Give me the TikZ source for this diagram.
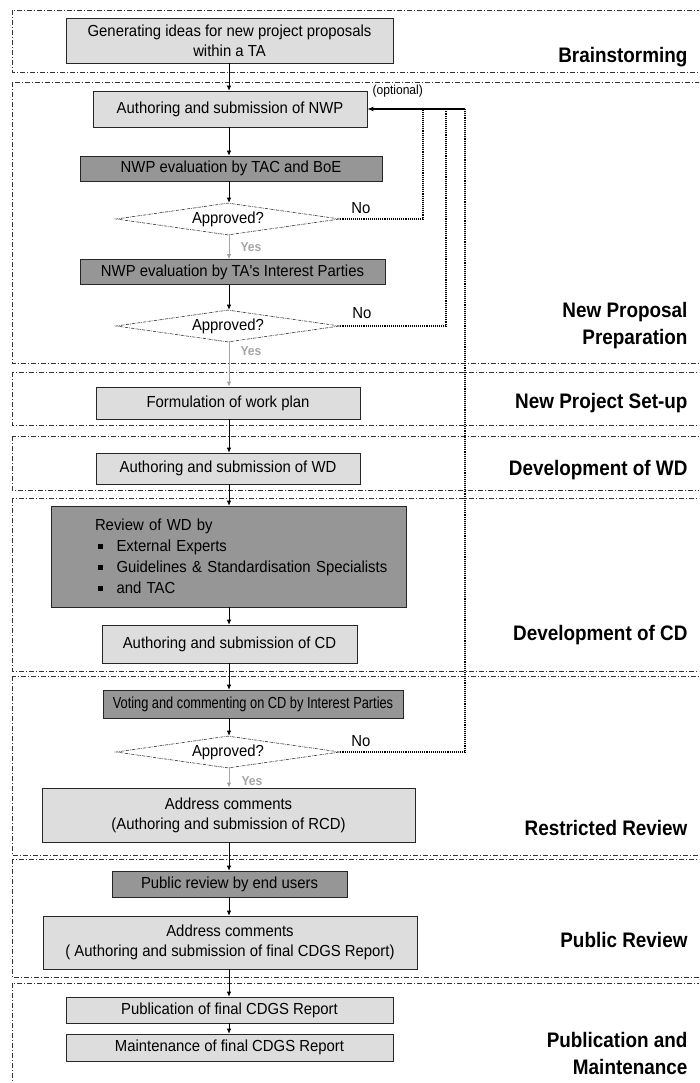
\documentclass[tikz,border=0pt]{standalone}
\usepackage{fontspec}
\setmainfont{Liberation Sans}
\newfontfamily\boxfont[FakeStretch=0.93]{Liberation Sans}
\newfontfamily\narrowfont[FakeStretch=0.8]{Liberation Sans}
\newfontfamily\lblfont[FakeStretch=0.9]{Liberation Sans}
\usetikzlibrary{shapes.geometric,arrows.meta}
\definecolor{boxlight}{RGB}{221,221,221}
\definecolor{boxdark}{RGB}{150,150,150}
\definecolor{yesgray}{RGB}{165,165,165}
\definecolor{phaseline}{RGB}{50,50,50}
\newcommand{\sqbullet}{\hspace*{3pt}\rule[3pt]{4.5pt}{4.5pt}\hspace{14pt}}
\tikzset{
  phase/.style={draw=phaseline, line width=0.7pt, dash pattern=on 5pt off 2pt on 1pt off 2pt},
  stepbox/.style={draw=black!85, line width=0.7pt, inner sep=0pt, align=center,
    font=\boxfont\fontsize{16}{20}\selectfont},
  lightbox/.style={stepbox, fill=boxlight},
  darkbox/.style={stepbox, fill=boxdark},
  decision/.style={draw=black!80, line width=0.6pt, densely dashdotted, fill=white,
    shape=diamond, aspect=7, inner sep=0pt, minimum width=224pt, minimum height=32pt,
    font=\boxfont\fontsize{16}{18}\selectfont},
  flow/.style={draw=black, line width=0.7pt, -{Latex[length=5pt,width=4.5pt]}},
  yesflow/.style={draw=yesgray, line width=0.9pt, -{Latex[length=5pt,width=4.5pt]}},
  fb/.style={draw=black, line width=1.1pt, densely dotted},
  fbarrow/.style={draw=black, line width=1.1pt, -{Latex[length=6pt,width=5pt]}},
  phaselabel/.style={anchor=east, align=right, font=\lblfont\bfseries\fontsize{21}{27}\selectfont},
  nolabel/.style={font=\boxfont\fontsize{16}{18}\selectfont},
  yeslabel/.style={text=yesgray, font=\boxfont\bfseries\fontsize{13}{15}\selectfont},
  optlabel/.style={font=\boxfont\fontsize{13}{15}\selectfont}
}
\begin{document}
\begin{tikzpicture}[x=1pt,y=-1pt]
\useasboundingbox (0,0) rectangle (699,1083);
\clip (0,0) rectangle (699,1083);

% phase frames (open to the right)
\draw[phase] (12,10) rectangle (720,72);
\draw[phase] (12,82) rectangle (720,363);
\draw[phase] (12,372) rectangle (720,425);
\draw[phase] (12,436) rectangle (720,490);
\draw[phase] (12,498) rectangle (720,671);
\draw[phase] (12,676) rectangle (720,855);
\draw[phase] (12,859) rectangle (720,977);
\draw[phase] (12,983) rectangle (720,1100);

% phase names
\node[phaselabel] (lbrain) at (691,57) {Brainstorming};
\node[phaselabel] (lnpp) at (691,326) {New Proposal\\Preparation};
\node[phaselabel] (lnps) at (691,403) {New Project Set-up};
\node[phaselabel] (lwd) at (691,470) {Development of WD};
\node[phaselabel] (lcd) at (691,635) {Development of CD};
\node[phaselabel] (lrr) at (691,828) {Restricted Review};
\node[phaselabel] (lpr) at (691,940) {Public Review};
\node[phaselabel] (lpm) at (691,1053) {Publication and\\Maintenance};

% column of the main flow
\coordinate (col) at (229,0);

% process steps
\node[lightbox, minimum width=327pt, minimum height=45pt] (gen) at (229.5,40.5)
  {Generating ideas for new project proposals\\within a TA};
\node[lightbox, minimum width=274pt, minimum height=36pt] (nwp) at (230,109)
  {Authoring and submission of NWP};
\node[darkbox, minimum width=302pt, minimum height=25pt] (evtac) at (231,168.5)
  {NWP evaluation by TAC and BoE};
\node[decision] (d1) at (228,219) {Approved?};
\node[darkbox, minimum width=305pt, minimum height=25pt] (evta) at (232.5,272)
  {NWP evaluation by TA's Interest Parties};
\node[decision] (d2) at (228,326) {Approved?};
\node[lightbox, minimum width=264pt, minimum height=32pt] (form) at (228,403)
  {Formulation of work plan};
\node[lightbox, minimum width=264pt, minimum height=31pt] (wd) at (228,468.5)
  {Authoring and submission of WD};
\node[darkbox, minimum width=355pt, minimum height=101pt, align=left,
  text width=267pt, inner xsep=44pt, font=\boxfont\fontsize{16}{21}\selectfont]
  (review) at (228.5,556.5)
  {\makebox[267pt][l]{Review of WD by}\\
   \makebox[267pt][l]{\sqbullet External Experts}\\
   \makebox[267pt][l]{\sqbullet Guidelines \& Standardisation Specialists}\\
   \makebox[267pt][l]{\sqbullet and TAC}};
\node[lightbox, minimum width=255pt, minimum height=38pt] (cd) at (229.5,644)
  {Authoring and submission of CD};
\node[darkbox, minimum width=300pt, minimum height=28pt,
  font=\narrowfont\fontsize{16}{18}\selectfont] (vote) at (253,704)
  {Voting and commenting on CD by Interest Parties};
\node[decision] (d3) at (228,752) {Approved?};
\node[lightbox, minimum width=373pt, minimum height=54pt] (rcd) at (228.5,815)
  {Address comments\\(Authoring and submission of RCD)};
\node[darkbox, minimum width=235pt, minimum height=26pt] (pub) at (229.5,884)
  {Public review by end users};
\node[lightbox, minimum width=374pt, minimum height=53pt] (fin) at (230,942.5)
  {Address comments\\( Authoring and submission of final CDGS Report)};
\node[lightbox, minimum width=327pt, minimum height=26pt] (publ) at (229.5,1010)
  {Publication of final CDGS Report};
\node[lightbox, minimum width=327pt, minimum height=27pt] (maint) at (229.5,1047.5)
  {Maintenance of final CDGS Report};

% main flow
\draw[flow] (gen.south -| col) -- (nwp.north -| col);
\draw[flow] (nwp.south -| col) -- (evtac.north -| col);
\draw[flow] (evtac.south -| col) -- (d1.north -| col);
\draw[yesflow] (d1.south -| col) -- (evta.north -| col);
\draw[flow] (evta.south -| col) -- (d2.north -| col);
\draw[yesflow] (d2.south -| col) -- (form.north -| col);
\draw[flow] (form.south -| col) -- (wd.north -| col);
\draw[flow] (wd.south -| col) -- (review.north -| col);
\draw[flow] (review.south -| col) -- (cd.north -| col);
\draw[flow] (cd.south -| col) -- (vote.north -| col);
\draw[flow] (vote.south -| col) -- (d3.north -| col);
\draw[yesflow] (d3.south -| col) -- (rcd.north -| col);
\draw[flow] (rcd.south -| col) -- (pub.north -| col);
\draw[flow] (pub.south -| col) -- (fin.north -| col);
\draw[flow] (fin.south -| col) -- (publ.north -| col);
\draw[flow] (publ.south -| col) -- (maint.north -| col);

% decision labels
\node[yeslabel] (y1) at (251,247) {Yes};
\node[yeslabel] (y2) at (251,351) {Yes};
\node[yeslabel] (y3) at (252,781) {Yes};
\node[nolabel] (n1) at (361,208) {No};
\node[nolabel] (n2) at (362,313) {No};
\node[nolabel] (n3) at (361,741) {No};

% rework loops back to the NWP
\coordinate (f1) at (423,109);
\coordinate (f2) at (446,109);
\coordinate (f3) at (465,109);
\draw[fb] (d1.east) -| (f1);
\draw[fb] (d2.east) -| (f2);
\draw[fb] (d3.east) -| (f3);
\draw[fbarrow] (f3) -- (nwp.east |- f3);
\node[optlabel, anchor=south west] (opt) at (369,101) {(optional)};
\end{tikzpicture}
\end{document}
